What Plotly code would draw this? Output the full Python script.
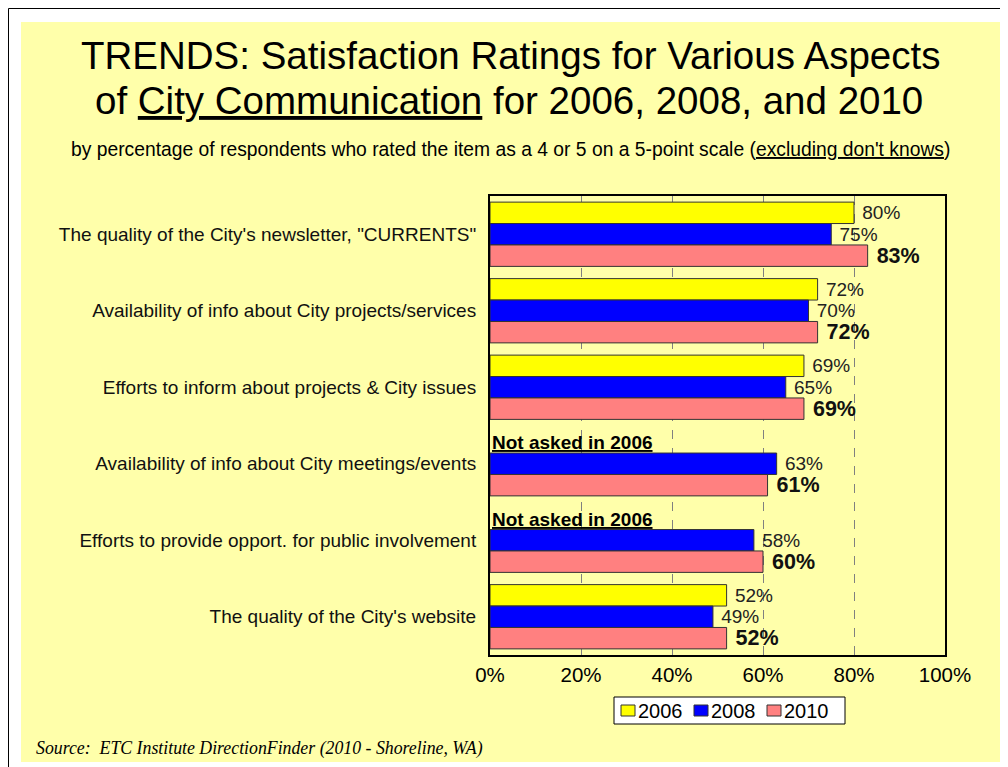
import plotly.graph_objects as go

categories = [
    "The quality of the City's newsletter, \"CURRENTS\"",
    "Availability of info about City projects/services",
    "Efforts to inform about projects & City issues",
    "Availability of info about City meetings/events",
    "Efforts to provide opport. for public involvement",
    "The quality of the City's website",
]
years = ["2006", "2008", "2010"]
v2006 = [80, 72, 69, None, None, 52]
v2008 = [75, 70, 65, 63, 58, 49]
v2010 = [83, 72, 69, 61, 60, 52]
x_ticks = [0, 20, 40, 60, 80, 100]
x_ticklabels = ["0%", "20%", "40%", "60%", "80%", "100%"]
not_asked = ["Availability of info about City meetings/events",
             "Efforts to provide opport. for public involvement"]

colors = {"2006": "#FFFF00", "2008": "#0000FF", "2010": "#FF8080"}

# page body has an 8px margin; work in reference-page pixel coordinates
OFF = 8
W, H = 1008 - OFF, 767 - OFF
L, R, T, B = 490, 945, 196, 655

def px(xp):
    return (xp - L) / (R - L)

def py(yp):
    return (B - yp) / (B - T)

fig = go.Figure()
for yr, vals in zip(years, [v2006, v2008, v2010]):
    if yr == "2010":
        labels = ["<b> %d%%</b>" % v if v is not None else "" for v in vals]
        tf = dict(family="Arial", size=21.5, color="#111111")
    else:
        labels = [" %d%%" % v if v is not None else "" for v in vals]
        tf = dict(family="Arial", size=19, color="#222222")
    fig.add_trace(go.Bar(
        y=categories, x=vals, orientation="h", name=yr,
        marker=dict(color=colors[yr], line=dict(color="#333333", width=1)),
        text=labels, texttemplate="%{text}", textposition="outside", textfont=tf,
        constraintext="none", cliponaxis=False, showlegend=False,
    ))

shapes = [
    dict(type="rect", xref="paper", yref="paper", x0=px(21), x1=px(1008), y0=py(762), y1=py(22),
         fillcolor="#FFFFAA", line=dict(width=0), layer="below"),
    dict(type="line", xref="paper", yref="paper", x0=px(8.5), x1=px(1008), y0=py(8.5), y1=py(8.5),
         line=dict(color="black", width=1)),
    dict(type="line", xref="paper", yref="paper", x0=px(8.5), x1=px(8.5), y0=py(8.5), y1=py(767),
         line=dict(color="black", width=1)),
    # legend box
    dict(type="rect", xref="paper", yref="paper", x0=px(614), x1=px(845), y0=py(724), y1=py(697),
         fillcolor="white", line=dict(color="black", width=1)),
]

annotations = [
    dict(text="TRENDS: Satisfaction Ratings for Various Aspects", x=px(510), y=py(56),
         xref="paper", yref="paper", showarrow=False, xanchor="center", yanchor="middle",
         font=dict(family="Arial", size=38.5, color="black")),
    dict(text="of <u>City Communication</u> for 2006, 2008, and 2010", x=px(509), y=py(100),
         xref="paper", yref="paper", showarrow=False, xanchor="center", yanchor="middle",
         font=dict(family="Arial", size=38.5, color="black")),
    dict(text="by percentage of respondents who rated the item as a 4 or 5 on a 5-point scale (<u>excluding don't knows</u>)",
         x=px(510), y=py(149), xref="paper", yref="paper", showarrow=False,
         xanchor="center", yanchor="middle", font=dict(family="Arial", size=19.3, color="black")),
    dict(text="<i>Source:  ETC Institute DirectionFinder (2010 - Shoreline, WA)</i>", x=px(34), y=py(748),
         xref="paper", yref="paper", showarrow=False, xanchor="left", yanchor="middle",
         font=dict(family="Liberation Serif", size=17.8, color="black")),
]
for c in not_asked:
    annotations.append(dict(text="<b><u>Not asked in 2006</u></b>", x=0, y=c, xref="x", yref="y",
                            xanchor="left", yanchor="middle", yshift=21, xshift=0, showarrow=False,
                            font=dict(family="Arial", size=19, color="black")))

# manual compact legend
sq_x = [621, 694, 767]
txt_x = [636, 709, 782]
for yr, sx, tx in zip(years, sq_x, txt_x):
    shapes.append(dict(type="rect", xref="paper", yref="paper", x0=px(sx), x1=px(sx + 14),
                       y0=py(716), y1=py(705), fillcolor=colors[yr],
                       line=dict(color="#333333", width=1)))
    annotations.append(dict(text=yr, x=px(tx), y=py(711), xref="paper", yref="paper",
                            showarrow=False, xanchor="left", yanchor="middle",
                            font=dict(family="Arial", size=20, color="black")))

fig.update_layout(
    width=W, height=H,
    margin=dict(l=L - OFF, r=1008 - R, t=T - OFF, b=767 - B, pad=0),
    paper_bgcolor="white", plot_bgcolor="white",
    barmode="group", bargap=0.16, bargroupgap=0,
    showlegend=False,
    xaxis=dict(range=[0, 100], tickvals=x_ticks, ticktext=x_ticklabels,
               showgrid=True, gridcolor="#808080", griddash="dash", gridwidth=1,
               showline=True, linecolor="black", linewidth=2, mirror=True,
               ticks="", tickfont=dict(family="Arial", size=20.5, color="black"),
               zeroline=False, fixedrange=True),
    yaxis=dict(categoryorder="array", categoryarray=categories, autorange="reversed",
               showline=True, linecolor="black", linewidth=2, mirror=True,
               ticks="", tickfont=dict(family="Arial", size=19, color="#111111"),
               ticklabelstandoff=8, showgrid=False),
    shapes=shapes, annotations=annotations,
)

fig.write_html("out.html")
